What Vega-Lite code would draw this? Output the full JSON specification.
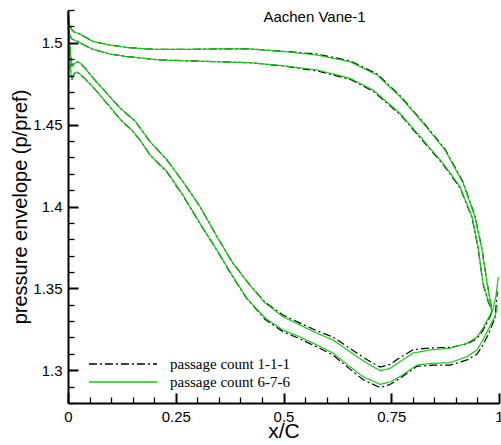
{
  "$schema": "https://vega.github.io/schema/vega-lite/v6.json",
  "width": 431,
  "height": 393,
  "autosize": {"type": "none"},
  "padding": {"left": 68, "top": 10, "right": 2, "bottom": 42},
  "background": "white",
  "config": {"view": {"stroke": null}, "font": "Liberation Sans"},
  "resolve": {"axis": {"x": "independent", "y": "independent"}},
  "datasets": {
    "label": [{"x": 0.572, "y": 1.5129, "text": "Aachen Vane-1"}],
    "lines": [
      {"series": "passage count 1-1-1", "curve": "A", "x": 0, "y": 1.5194},
      {"series": "passage count 1-1-1", "curve": "A", "x": 0.0023, "y": 1.5139},
      {"series": "passage count 1-1-1", "curve": "A", "x": 0.0046, "y": 1.5102},
      {"series": "passage count 1-1-1", "curve": "A", "x": 0.0093, "y": 1.5078},
      {"series": "passage count 1-1-1", "curve": "A", "x": 0.0139, "y": 1.5066},
      {"series": "passage count 1-1-1", "curve": "A", "x": 0.0197, "y": 1.506},
      {"series": "passage count 1-1-1", "curve": "A", "x": 0.0255, "y": 1.5056},
      {"series": "passage count 1-1-1", "curve": "A", "x": 0.0371, "y": 1.5038},
      {"series": "passage count 1-1-1", "curve": "A", "x": 0.058, "y": 1.5008},
      {"series": "passage count 1-1-1", "curve": "A", "x": 0.0974, "y": 1.4986},
      {"series": "passage count 1-1-1", "curve": "A", "x": 0.1369, "y": 1.4971},
      {"series": "passage count 1-1-1", "curve": "A", "x": 0.1787, "y": 1.4963},
      {"series": "passage count 1-1-1", "curve": "A", "x": 0.2135, "y": 1.4959},
      {"series": "passage count 1-1-1", "curve": "A", "x": 0.2831, "y": 1.4959},
      {"series": "passage count 1-1-1", "curve": "A", "x": 0.3457, "y": 1.4963},
      {"series": "passage count 1-1-1", "curve": "A", "x": 0.4223, "y": 1.4962},
      {"series": "passage count 1-1-1", "curve": "A", "x": 0.4988, "y": 1.4948},
      {"series": "passage count 1-1-1", "curve": "A", "x": 0.5777, "y": 1.4931},
      {"series": "passage count 1-1-1", "curve": "A", "x": 0.6543, "y": 1.489},
      {"series": "passage count 1-1-1", "curve": "A", "x": 0.7169, "y": 1.4809},
      {"series": "passage count 1-1-1", "curve": "A", "x": 0.7703, "y": 1.4677},
      {"series": "passage count 1-1-1", "curve": "A", "x": 0.8237, "y": 1.4516},
      {"series": "passage count 1-1-1", "curve": "A", "x": 0.8747, "y": 1.4351},
      {"series": "passage count 1-1-1", "curve": "A", "x": 0.9165, "y": 1.415},
      {"series": "passage count 1-1-1", "curve": "A", "x": 0.9443, "y": 1.3942},
      {"series": "passage count 1-1-1", "curve": "A", "x": 0.9606, "y": 1.374},
      {"series": "passage count 1-1-1", "curve": "A", "x": 0.9722, "y": 1.3539},
      {"series": "passage count 1-1-1", "curve": "A", "x": 0.9791, "y": 1.3435},
      {"series": "passage count 1-1-1", "curve": "A", "x": 0.9838, "y": 1.3356},

      {"series": "passage count 1-1-1", "curve": "B", "x": 0, "y": 1.5151},
      {"series": "passage count 1-1-1", "curve": "B", "x": 0.0023, "y": 1.5078},
      {"series": "passage count 1-1-1", "curve": "B", "x": 0.0046, "y": 1.5041},
      {"series": "passage count 1-1-1", "curve": "B", "x": 0.0093, "y": 1.5023},
      {"series": "passage count 1-1-1", "curve": "B", "x": 0.0162, "y": 1.5014},
      {"series": "passage count 1-1-1", "curve": "B", "x": 0.0232, "y": 1.5008},
      {"series": "passage count 1-1-1", "curve": "B", "x": 0.0371, "y": 1.4986},
      {"series": "passage count 1-1-1", "curve": "B", "x": 0.058, "y": 1.496},
      {"series": "passage count 1-1-1", "curve": "B", "x": 0.0974, "y": 1.4931},
      {"series": "passage count 1-1-1", "curve": "B", "x": 0.1369, "y": 1.4915},
      {"series": "passage count 1-1-1", "curve": "B", "x": 0.2135, "y": 1.4895},
      {"series": "passage count 1-1-1", "curve": "B", "x": 0.2831, "y": 1.4889},
      {"series": "passage count 1-1-1", "curve": "B", "x": 0.4223, "y": 1.4878},
      {"series": "passage count 1-1-1", "curve": "B", "x": 0.4988, "y": 1.4858},
      {"series": "passage count 1-1-1", "curve": "B", "x": 0.5777, "y": 1.4828},
      {"series": "passage count 1-1-1", "curve": "B", "x": 0.6543, "y": 1.4777},
      {"series": "passage count 1-1-1", "curve": "B", "x": 0.7077, "y": 1.4705},
      {"series": "passage count 1-1-1", "curve": "B", "x": 0.7703, "y": 1.4563},
      {"series": "passage count 1-1-1", "curve": "B", "x": 0.8237, "y": 1.44},
      {"series": "passage count 1-1-1", "curve": "B", "x": 0.8701, "y": 1.4258},
      {"series": "passage count 1-1-1", "curve": "B", "x": 0.9095, "y": 1.4115},
      {"series": "passage count 1-1-1", "curve": "B", "x": 0.9374, "y": 1.3932},
      {"series": "passage count 1-1-1", "curve": "B", "x": 0.9513, "y": 1.3749},
      {"series": "passage count 1-1-1", "curve": "B", "x": 0.9629, "y": 1.3527},
      {"series": "passage count 1-1-1", "curve": "B", "x": 0.9745, "y": 1.3423},
      {"series": "passage count 1-1-1", "curve": "B", "x": 0.9838, "y": 1.336},

      {"series": "passage count 1-1-1", "curve": "C", "x": 0, "y": 1.5176},
      {"series": "passage count 1-1-1", "curve": "C", "x": 0.0023, "y": 1.5047},
      {"series": "passage count 1-1-1", "curve": "C", "x": 0.0058, "y": 1.4925},
      {"series": "passage count 1-1-1", "curve": "C", "x": 0.0093, "y": 1.4858},
      {"series": "passage count 1-1-1", "curve": "C", "x": 0.0139, "y": 1.487},
      {"series": "passage count 1-1-1", "curve": "C", "x": 0.0209, "y": 1.4884},
      {"series": "passage count 1-1-1", "curve": "C", "x": 0.0278, "y": 1.4876},
      {"series": "passage count 1-1-1", "curve": "C", "x": 0.0394, "y": 1.4846},
      {"series": "passage count 1-1-1", "curve": "C", "x": 0.058, "y": 1.4785},
      {"series": "passage count 1-1-1", "curve": "C", "x": 0.0974, "y": 1.4669},
      {"series": "passage count 1-1-1", "curve": "C", "x": 0.1206, "y": 1.4602},
      {"series": "passage count 1-1-1", "curve": "C", "x": 0.1392, "y": 1.4559},
      {"series": "passage count 1-1-1", "curve": "C", "x": 0.1555, "y": 1.4522},
      {"series": "passage count 1-1-1", "curve": "C", "x": 0.1903, "y": 1.4396},
      {"series": "passage count 1-1-1", "curve": "C", "x": 0.2297, "y": 1.4284},
      {"series": "passage count 1-1-1", "curve": "C", "x": 0.2668, "y": 1.4151},
      {"series": "passage count 1-1-1", "curve": "C", "x": 0.3063, "y": 1.3999},
      {"series": "passage count 1-1-1", "curve": "C", "x": 0.3457, "y": 1.3816},
      {"series": "passage count 1-1-1", "curve": "C", "x": 0.3828, "y": 1.3653},
      {"series": "passage count 1-1-1", "curve": "C", "x": 0.4223, "y": 1.352},
      {"series": "passage count 1-1-1", "curve": "C", "x": 0.4571, "y": 1.3416},
      {"series": "passage count 1-1-1", "curve": "C", "x": 0.4988, "y": 1.3337},
      {"series": "passage count 1-1-1", "curve": "C", "x": 0.5383, "y": 1.3288},
      {"series": "passage count 1-1-1", "curve": "C", "x": 0.5777, "y": 1.3241},
      {"series": "passage count 1-1-1", "curve": "C", "x": 0.6148, "y": 1.3203},
      {"series": "passage count 1-1-1", "curve": "C", "x": 0.6543, "y": 1.3133},
      {"series": "passage count 1-1-1", "curve": "C", "x": 0.6891, "y": 1.3072},
      {"series": "passage count 1-1-1", "curve": "C", "x": 0.7239, "y": 1.3019},
      {"series": "passage count 1-1-1", "curve": "C", "x": 0.7471, "y": 1.3036},
      {"series": "passage count 1-1-1", "curve": "C", "x": 0.7703, "y": 1.3077},
      {"series": "passage count 1-1-1", "curve": "C", "x": 0.8005, "y": 1.3125},
      {"series": "passage count 1-1-1", "curve": "C", "x": 0.8399, "y": 1.3136},
      {"series": "passage count 1-1-1", "curve": "C", "x": 0.8863, "y": 1.314},
      {"series": "passage count 1-1-1", "curve": "C", "x": 0.9258, "y": 1.316},
      {"series": "passage count 1-1-1", "curve": "C", "x": 0.949, "y": 1.3193},
      {"series": "passage count 1-1-1", "curve": "C", "x": 0.9629, "y": 1.3243},
      {"series": "passage count 1-1-1", "curve": "C", "x": 0.9791, "y": 1.3327},
      {"series": "passage count 1-1-1", "curve": "C", "x": 0.9861, "y": 1.3369},

      {"series": "passage count 1-1-1", "curve": "D", "x": 0, "y": 1.5163},
      {"series": "passage count 1-1-1", "curve": "D", "x": 0.0023, "y": 1.4986},
      {"series": "passage count 1-1-1", "curve": "D", "x": 0.0058, "y": 1.4834},
      {"series": "passage count 1-1-1", "curve": "D", "x": 0.0086, "y": 1.4773},
      {"series": "passage count 1-1-1", "curve": "D", "x": 0.0116, "y": 1.4797},
      {"series": "passage count 1-1-1", "curve": "D", "x": 0.0162, "y": 1.4815},
      {"series": "passage count 1-1-1", "curve": "D", "x": 0.0209, "y": 1.4821},
      {"series": "passage count 1-1-1", "curve": "D", "x": 0.0278, "y": 1.4809},
      {"series": "passage count 1-1-1", "curve": "D", "x": 0.0394, "y": 1.4779},
      {"series": "passage count 1-1-1", "curve": "D", "x": 0.058, "y": 1.473},
      {"series": "passage count 1-1-1", "curve": "D", "x": 0.0974, "y": 1.4608},
      {"series": "passage count 1-1-1", "curve": "D", "x": 0.1206, "y": 1.4534},
      {"series": "passage count 1-1-1", "curve": "D", "x": 0.1346, "y": 1.4498},
      {"series": "passage count 1-1-1", "curve": "D", "x": 0.1478, "y": 1.4467},
      {"series": "passage count 1-1-1", "curve": "D", "x": 0.1671, "y": 1.4406},
      {"series": "passage count 1-1-1", "curve": "D", "x": 0.1903, "y": 1.4315},
      {"series": "passage count 1-1-1", "curve": "D", "x": 0.2297, "y": 1.421},
      {"series": "passage count 1-1-1", "curve": "D", "x": 0.2668, "y": 1.4067},
      {"series": "passage count 1-1-1", "curve": "D", "x": 0.3063, "y": 1.3894},
      {"series": "passage count 1-1-1", "curve": "D", "x": 0.3457, "y": 1.3731},
      {"series": "passage count 1-1-1", "curve": "D", "x": 0.3828, "y": 1.3568},
      {"series": "passage count 1-1-1", "curve": "D", "x": 0.4153, "y": 1.3436},
      {"series": "passage count 1-1-1", "curve": "D", "x": 0.4571, "y": 1.3311},
      {"series": "passage count 1-1-1", "curve": "D", "x": 0.4988, "y": 1.3236},
      {"series": "passage count 1-1-1", "curve": "D", "x": 0.5383, "y": 1.3191},
      {"series": "passage count 1-1-1", "curve": "D", "x": 0.5777, "y": 1.3142},
      {"series": "passage count 1-1-1", "curve": "D", "x": 0.6148, "y": 1.3093},
      {"series": "passage count 1-1-1", "curve": "D", "x": 0.6543, "y": 1.3007},
      {"series": "passage count 1-1-1", "curve": "D", "x": 0.6845, "y": 1.2943},
      {"series": "passage count 1-1-1", "curve": "D", "x": 0.7239, "y": 1.2894},
      {"series": "passage count 1-1-1", "curve": "D", "x": 0.7471, "y": 1.2913},
      {"series": "passage count 1-1-1", "curve": "D", "x": 0.7703, "y": 1.2951},
      {"series": "passage count 1-1-1", "curve": "D", "x": 0.8097, "y": 1.3024},
      {"series": "passage count 1-1-1", "curve": "D", "x": 0.8469, "y": 1.3031},
      {"series": "passage count 1-1-1", "curve": "D", "x": 0.8863, "y": 1.3031},
      {"series": "passage count 1-1-1", "curve": "D", "x": 0.9258, "y": 1.3063},
      {"series": "passage count 1-1-1", "curve": "D", "x": 0.949, "y": 1.3099},
      {"series": "passage count 1-1-1", "curve": "D", "x": 0.9629, "y": 1.3155},
      {"series": "passage count 1-1-1", "curve": "D", "x": 0.9768, "y": 1.3228},
      {"series": "passage count 1-1-1", "curve": "D", "x": 0.9838, "y": 1.3275},
      {"series": "passage count 1-1-1", "curve": "D", "x": 0.9907, "y": 1.3317},
      {"series": "passage count 1-1-1", "curve": "D", "x": 0.996, "y": 1.348},

      {"series": "passage count 6-7-6", "curve": "A", "x": 0, "y": 1.5194},
      {"series": "passage count 6-7-6", "curve": "A", "x": 0.0023, "y": 1.5139},
      {"series": "passage count 6-7-6", "curve": "A", "x": 0.0046, "y": 1.5102},
      {"series": "passage count 6-7-6", "curve": "A", "x": 0.0093, "y": 1.5078},
      {"series": "passage count 6-7-6", "curve": "A", "x": 0.0139, "y": 1.5066},
      {"series": "passage count 6-7-6", "curve": "A", "x": 0.0197, "y": 1.506},
      {"series": "passage count 6-7-6", "curve": "A", "x": 0.0255, "y": 1.5056},
      {"series": "passage count 6-7-6", "curve": "A", "x": 0.0371, "y": 1.5038},
      {"series": "passage count 6-7-6", "curve": "A", "x": 0.058, "y": 1.5008},
      {"series": "passage count 6-7-6", "curve": "A", "x": 0.0974, "y": 1.4986},
      {"series": "passage count 6-7-6", "curve": "A", "x": 0.1369, "y": 1.4971},
      {"series": "passage count 6-7-6", "curve": "A", "x": 0.1787, "y": 1.4963},
      {"series": "passage count 6-7-6", "curve": "A", "x": 0.2135, "y": 1.4959},
      {"series": "passage count 6-7-6", "curve": "A", "x": 0.2831, "y": 1.4959},
      {"series": "passage count 6-7-6", "curve": "A", "x": 0.3457, "y": 1.4963},
      {"series": "passage count 6-7-6", "curve": "A", "x": 0.4223, "y": 1.4962},
      {"series": "passage count 6-7-6", "curve": "A", "x": 0.4988, "y": 1.4947},
      {"series": "passage count 6-7-6", "curve": "A", "x": 0.5777, "y": 1.4925},
      {"series": "passage count 6-7-6", "curve": "A", "x": 0.6543, "y": 1.4884},
      {"series": "passage count 6-7-6", "curve": "A", "x": 0.7169, "y": 1.4803},
      {"series": "passage count 6-7-6", "curve": "A", "x": 0.7703, "y": 1.4671},
      {"series": "passage count 6-7-6", "curve": "A", "x": 0.8237, "y": 1.451},
      {"series": "passage count 6-7-6", "curve": "A", "x": 0.8747, "y": 1.4345},
      {"series": "passage count 6-7-6", "curve": "A", "x": 0.9165, "y": 1.4144},
      {"series": "passage count 6-7-6", "curve": "A", "x": 0.9443, "y": 1.3936},
      {"series": "passage count 6-7-6", "curve": "A", "x": 0.9606, "y": 1.3734},
      {"series": "passage count 6-7-6", "curve": "A", "x": 0.9722, "y": 1.3533},
      {"series": "passage count 6-7-6", "curve": "A", "x": 0.9791, "y": 1.3429},
      {"series": "passage count 6-7-6", "curve": "A", "x": 0.9838, "y": 1.335},

      {"series": "passage count 6-7-6", "curve": "B", "x": 0, "y": 1.5151},
      {"series": "passage count 6-7-6", "curve": "B", "x": 0.0023, "y": 1.5078},
      {"series": "passage count 6-7-6", "curve": "B", "x": 0.0046, "y": 1.5041},
      {"series": "passage count 6-7-6", "curve": "B", "x": 0.0093, "y": 1.5023},
      {"series": "passage count 6-7-6", "curve": "B", "x": 0.0162, "y": 1.5014},
      {"series": "passage count 6-7-6", "curve": "B", "x": 0.0232, "y": 1.5008},
      {"series": "passage count 6-7-6", "curve": "B", "x": 0.0371, "y": 1.4986},
      {"series": "passage count 6-7-6", "curve": "B", "x": 0.058, "y": 1.496},
      {"series": "passage count 6-7-6", "curve": "B", "x": 0.0974, "y": 1.4931},
      {"series": "passage count 6-7-6", "curve": "B", "x": 0.1369, "y": 1.4915},
      {"series": "passage count 6-7-6", "curve": "B", "x": 0.2135, "y": 1.4895},
      {"series": "passage count 6-7-6", "curve": "B", "x": 0.2831, "y": 1.4889},
      {"series": "passage count 6-7-6", "curve": "B", "x": 0.4223, "y": 1.4878},
      {"series": "passage count 6-7-6", "curve": "B", "x": 0.4988, "y": 1.486},
      {"series": "passage count 6-7-6", "curve": "B", "x": 0.5777, "y": 1.4834},
      {"series": "passage count 6-7-6", "curve": "B", "x": 0.6543, "y": 1.4783},
      {"series": "passage count 6-7-6", "curve": "B", "x": 0.7077, "y": 1.4711},
      {"series": "passage count 6-7-6", "curve": "B", "x": 0.7703, "y": 1.4569},
      {"series": "passage count 6-7-6", "curve": "B", "x": 0.8237, "y": 1.4406},
      {"series": "passage count 6-7-6", "curve": "B", "x": 0.8701, "y": 1.4264},
      {"series": "passage count 6-7-6", "curve": "B", "x": 0.9095, "y": 1.4121},
      {"series": "passage count 6-7-6", "curve": "B", "x": 0.9374, "y": 1.3938},
      {"series": "passage count 6-7-6", "curve": "B", "x": 0.9513, "y": 1.3755},
      {"series": "passage count 6-7-6", "curve": "B", "x": 0.9629, "y": 1.3533},
      {"series": "passage count 6-7-6", "curve": "B", "x": 0.9745, "y": 1.3429},
      {"series": "passage count 6-7-6", "curve": "B", "x": 0.9838, "y": 1.3366},

      {"series": "passage count 6-7-6", "curve": "C", "x": 0, "y": 1.5176},
      {"series": "passage count 6-7-6", "curve": "C", "x": 0.0023, "y": 1.5047},
      {"series": "passage count 6-7-6", "curve": "C", "x": 0.0058, "y": 1.4925},
      {"series": "passage count 6-7-6", "curve": "C", "x": 0.0093, "y": 1.4858},
      {"series": "passage count 6-7-6", "curve": "C", "x": 0.0139, "y": 1.487},
      {"series": "passage count 6-7-6", "curve": "C", "x": 0.0209, "y": 1.4884},
      {"series": "passage count 6-7-6", "curve": "C", "x": 0.0278, "y": 1.4876},
      {"series": "passage count 6-7-6", "curve": "C", "x": 0.0394, "y": 1.4846},
      {"series": "passage count 6-7-6", "curve": "C", "x": 0.058, "y": 1.4785},
      {"series": "passage count 6-7-6", "curve": "C", "x": 0.0974, "y": 1.4669},
      {"series": "passage count 6-7-6", "curve": "C", "x": 0.1206, "y": 1.4602},
      {"series": "passage count 6-7-6", "curve": "C", "x": 0.1392, "y": 1.4559},
      {"series": "passage count 6-7-6", "curve": "C", "x": 0.1555, "y": 1.4522},
      {"series": "passage count 6-7-6", "curve": "C", "x": 0.1903, "y": 1.4396},
      {"series": "passage count 6-7-6", "curve": "C", "x": 0.2297, "y": 1.4284},
      {"series": "passage count 6-7-6", "curve": "C", "x": 0.2668, "y": 1.4151},
      {"series": "passage count 6-7-6", "curve": "C", "x": 0.3063, "y": 1.3999},
      {"series": "passage count 6-7-6", "curve": "C", "x": 0.3457, "y": 1.3816},
      {"series": "passage count 6-7-6", "curve": "C", "x": 0.3828, "y": 1.3653},
      {"series": "passage count 6-7-6", "curve": "C", "x": 0.4223, "y": 1.3518},
      {"series": "passage count 6-7-6", "curve": "C", "x": 0.4571, "y": 1.3411},
      {"series": "passage count 6-7-6", "curve": "C", "x": 0.4988, "y": 1.3327},
      {"series": "passage count 6-7-6", "curve": "C", "x": 0.5383, "y": 1.3276},
      {"series": "passage count 6-7-6", "curve": "C", "x": 0.5777, "y": 1.3226},
      {"series": "passage count 6-7-6", "curve": "C", "x": 0.6148, "y": 1.3185},
      {"series": "passage count 6-7-6", "curve": "C", "x": 0.6543, "y": 1.3113},
      {"series": "passage count 6-7-6", "curve": "C", "x": 0.6891, "y": 1.305},
      {"series": "passage count 6-7-6", "curve": "C", "x": 0.7239, "y": 1.2997},
      {"series": "passage count 6-7-6", "curve": "C", "x": 0.7471, "y": 1.3011},
      {"series": "passage count 6-7-6", "curve": "C", "x": 0.7703, "y": 1.3052},
      {"series": "passage count 6-7-6", "curve": "C", "x": 0.8005, "y": 1.3105},
      {"series": "passage count 6-7-6", "curve": "C", "x": 0.8399, "y": 1.3124},
      {"series": "passage count 6-7-6", "curve": "C", "x": 0.8863, "y": 1.3134},
      {"series": "passage count 6-7-6", "curve": "C", "x": 0.9258, "y": 1.3165},
      {"series": "passage count 6-7-6", "curve": "C", "x": 0.949, "y": 1.3203},
      {"series": "passage count 6-7-6", "curve": "C", "x": 0.9629, "y": 1.3258},
      {"series": "passage count 6-7-6", "curve": "C", "x": 0.9791, "y": 1.3337},
      {"series": "passage count 6-7-6", "curve": "C", "x": 0.9861, "y": 1.3374},
      {"series": "passage count 6-7-6", "curve": "C", "x": 0.993, "y": 1.3453},
      {"series": "passage count 6-7-6", "curve": "C", "x": 0.9983, "y": 1.357},

      {"series": "passage count 6-7-6", "curve": "D", "x": 0, "y": 1.5163},
      {"series": "passage count 6-7-6", "curve": "D", "x": 0.0023, "y": 1.4986},
      {"series": "passage count 6-7-6", "curve": "D", "x": 0.0058, "y": 1.4834},
      {"series": "passage count 6-7-6", "curve": "D", "x": 0.0086, "y": 1.4773},
      {"series": "passage count 6-7-6", "curve": "D", "x": 0.0116, "y": 1.4797},
      {"series": "passage count 6-7-6", "curve": "D", "x": 0.0162, "y": 1.4815},
      {"series": "passage count 6-7-6", "curve": "D", "x": 0.0209, "y": 1.4821},
      {"series": "passage count 6-7-6", "curve": "D", "x": 0.0278, "y": 1.4809},
      {"series": "passage count 6-7-6", "curve": "D", "x": 0.0394, "y": 1.4779},
      {"series": "passage count 6-7-6", "curve": "D", "x": 0.058, "y": 1.473},
      {"series": "passage count 6-7-6", "curve": "D", "x": 0.0974, "y": 1.4608},
      {"series": "passage count 6-7-6", "curve": "D", "x": 0.1206, "y": 1.4534},
      {"series": "passage count 6-7-6", "curve": "D", "x": 0.1346, "y": 1.4498},
      {"series": "passage count 6-7-6", "curve": "D", "x": 0.1478, "y": 1.4467},
      {"series": "passage count 6-7-6", "curve": "D", "x": 0.1671, "y": 1.4406},
      {"series": "passage count 6-7-6", "curve": "D", "x": 0.1903, "y": 1.4315},
      {"series": "passage count 6-7-6", "curve": "D", "x": 0.2297, "y": 1.4213},
      {"series": "passage count 6-7-6", "curve": "D", "x": 0.2668, "y": 1.407},
      {"series": "passage count 6-7-6", "curve": "D", "x": 0.3063, "y": 1.3897},
      {"series": "passage count 6-7-6", "curve": "D", "x": 0.3457, "y": 1.3734},
      {"series": "passage count 6-7-6", "curve": "D", "x": 0.3828, "y": 1.3571},
      {"series": "passage count 6-7-6", "curve": "D", "x": 0.4153, "y": 1.3439},
      {"series": "passage count 6-7-6", "curve": "D", "x": 0.4571, "y": 1.3319},
      {"series": "passage count 6-7-6", "curve": "D", "x": 0.4988, "y": 1.3246},
      {"series": "passage count 6-7-6", "curve": "D", "x": 0.5383, "y": 1.3203},
      {"series": "passage count 6-7-6", "curve": "D", "x": 0.5777, "y": 1.3154},
      {"series": "passage count 6-7-6", "curve": "D", "x": 0.6148, "y": 1.3105},
      {"series": "passage count 6-7-6", "curve": "D", "x": 0.6543, "y": 1.3022},
      {"series": "passage count 6-7-6", "curve": "D", "x": 0.6845, "y": 1.2961},
      {"series": "passage count 6-7-6", "curve": "D", "x": 0.7239, "y": 1.2914},
      {"series": "passage count 6-7-6", "curve": "D", "x": 0.7471, "y": 1.2928},
      {"series": "passage count 6-7-6", "curve": "D", "x": 0.7703, "y": 1.2961},
      {"series": "passage count 6-7-6", "curve": "D", "x": 0.8097, "y": 1.3032},
      {"series": "passage count 6-7-6", "curve": "D", "x": 0.8469, "y": 1.3043},
      {"series": "passage count 6-7-6", "curve": "D", "x": 0.8863, "y": 1.3046},
      {"series": "passage count 6-7-6", "curve": "D", "x": 0.9258, "y": 1.3083},
      {"series": "passage count 6-7-6", "curve": "D", "x": 0.949, "y": 1.3124},
      {"series": "passage count 6-7-6", "curve": "D", "x": 0.9629, "y": 1.3185},
      {"series": "passage count 6-7-6", "curve": "D", "x": 0.9768, "y": 1.3258},
      {"series": "passage count 6-7-6", "curve": "D", "x": 0.9838, "y": 1.3295},
      {"series": "passage count 6-7-6", "curve": "D", "x": 0.9907, "y": 1.3327},
      {"series": "passage count 6-7-6", "curve": "D", "x": 0.9965, "y": 1.3395}
    ]
  },
  "layer": [
    {
      "data": {"name": "lines"},
      "transform": [{"filter": "datum.series == 'passage count 1-1-1'"}],
      "mark": {"type": "line", "strokeWidth": 1.2},
      "encoding": {
        "x": {
          "field": "x", "type": "quantitative",
          "scale": {"domain": [0, 1], "nice": false, "zero": false},
          "axis": {
            "orient": "bottom", "zindex": 1,
            "values": [0, 0.25, 0.5, 0.75, 1],
            "format": ".2~f",
            "ticks": false,
            "domainColor": "#000000", "domainWidth": 2,
            "labelFont": "Liberation Sans", "labelFontSize": 15, "labelColor": "#000000",
            "labelPadding": 6, "labelFlush": false, "labelOverlap": false, "labelBound": false,
            "grid": false,
            "title": "x/C", "titleFont": "Liberation Sans", "titleFontSize": 21, "titleFontWeight": "normal",
            "titleColor": "#000000", "titleBaseline": "alphabetic", "titleY": 34
          }
        },
        "y": {
          "field": "y", "type": "quantitative",
          "scale": {"domain": [1.28, 1.52], "nice": false, "zero": false},
          "axis": {
            "orient": "left", "zindex": 1,
            "values": [1.3, 1.35, 1.4, 1.45, 1.5],
            "format": ".2~f",
            "ticks": false,
            "domainColor": "#000000", "domainWidth": 2,
            "labelFont": "Liberation Sans", "labelFontSize": 15, "labelColor": "#000000",
            "labelPadding": 6, "labelFlush": false, "labelOverlap": false, "labelBound": false,
            "grid": false,
            "title": "pressure envelope (p/pref)", "titleFont": "Liberation Sans", "titleFontSize": 20, "titleFontWeight": "normal",
            "titleColor": "#000000", "titleBaseline": "alphabetic", "titleAlign": "center", "titleAngle": -90, "titleX": -42, "titleY": 196.5
          }
        },
        "color": {
          "field": "series", "type": "nominal",
          "scale": {"domain": ["passage count 1-1-1", "passage count 6-7-6"], "range": ["#000000", "#14c814"]},
          "legend": {
            "title": null, "orient": "none", "legendX": 20, "legendY": 345,
            "symbolType": "stroke", "symbolSize": 4624, "symbolStrokeWidth": 1.5,
            "labelFont": "Liberation Serif", "labelFontSize": 15, "labelColor": "#000000",
            "labelOffset": 12, "clipHeight": 18, "rowPadding": 0, "padding": 0
          }
        },
        "strokeDash": {
          "field": "series", "type": "nominal",
          "scale": {"domain": ["passage count 1-1-1", "passage count 6-7-6"], "range": [[8, 3, 2, 3], [1, 0]]},
          "legend": {
            "title": null, "orient": "none", "legendX": 20, "legendY": 345,
            "symbolType": "stroke", "symbolSize": 4624, "symbolStrokeWidth": 1.5,
            "labelFont": "Liberation Serif", "labelFontSize": 15, "labelColor": "#000000",
            "labelOffset": 12, "clipHeight": 18, "rowPadding": 0, "padding": 0
          }
        },
        "detail": {"field": "curve", "type": "nominal"}
      }
    },
    {
      "data": {"name": "lines"},
      "transform": [{"filter": "datum.series == 'passage count 6-7-6'"}],
      "mark": {"type": "line", "strokeWidth": 1.2},
      "encoding": {
        "x": {
          "field": "x", "type": "quantitative",
          "scale": {"domain": [0, 1], "nice": false, "zero": false},
          "axis": {
            "orient": "bottom", "offset": -10, "zindex": 1,
            "values": [0, 0.25, 0.5, 0.75, 1],
            "labels": false, "domain": false, "grid": false, "title": null,
            "tickSize": 10, "tickWidth": 2, "tickColor": "#000000"
          }
        },
        "y": {
          "field": "y", "type": "quantitative",
          "scale": {"domain": [1.28, 1.52], "nice": false, "zero": false},
          "axis": {
            "orient": "left", "offset": -10, "zindex": 1,
            "values": [1.3, 1.35, 1.4, 1.45, 1.5],
            "labels": false, "domain": false, "grid": false, "title": null,
            "tickSize": 10, "tickWidth": 2, "tickColor": "#000000"
          }
        },
        "color": {"field": "series", "type": "nominal"},
        "strokeDash": {"field": "series", "type": "nominal"},
        "detail": {"field": "curve", "type": "nominal"}
      }
    },
    {
      "data": {"name": "label"},
      "mark": {"type": "text", "font": "Liberation Sans", "fontSize": 15, "align": "center", "baseline": "alphabetic", "color": "#000000"},
      "encoding": {
        "x": {
          "field": "x", "type": "quantitative",
          "scale": {"domain": [0, 1], "nice": false, "zero": false},
          "axis": {
            "orient": "bottom", "offset": -6, "zindex": 1,
            "values": [0.05, 0.1, 0.15, 0.2, 0.3, 0.35, 0.4, 0.45, 0.55, 0.6, 0.65, 0.7, 0.8, 0.85, 0.9, 0.95],
            "labels": false, "domain": false, "grid": false, "title": null,
            "tickSize": 6, "tickWidth": 1.3, "tickColor": "#000000"
          }
        },
        "y": {
          "field": "y", "type": "quantitative",
          "scale": {"domain": [1.28, 1.52], "nice": false, "zero": false},
          "axis": {
            "orient": "left", "offset": -6, "zindex": 1,
            "values": [1.28, 1.29, 1.31, 1.32, 1.33, 1.34, 1.36, 1.37, 1.38, 1.39, 1.41, 1.42, 1.43, 1.44, 1.46, 1.47, 1.48, 1.49, 1.51, 1.52],
            "labels": false, "domain": false, "grid": false, "title": null,
            "tickSize": 6, "tickWidth": 1.3, "tickColor": "#000000"
          }
        },
        "text": {"field": "text"}
      }
    },
    {
      "mark": {"type": "rule", "color": "#000000", "strokeWidth": 2},
      "encoding": {
        "x": {"datum": 0, "type": "quantitative", "axis": null},
        "y": {"datum": 1.28, "type": "quantitative", "axis": null},
        "y2": {"datum": 1.52}
      }
    },
    {
      "mark": {"type": "rule", "color": "#000000", "strokeWidth": 2},
      "encoding": {
        "x": {"datum": 0, "type": "quantitative", "axis": null},
        "x2": {"datum": 1},
        "y": {"datum": 1.28, "type": "quantitative", "axis": null}
      }
    }
  ]
}
